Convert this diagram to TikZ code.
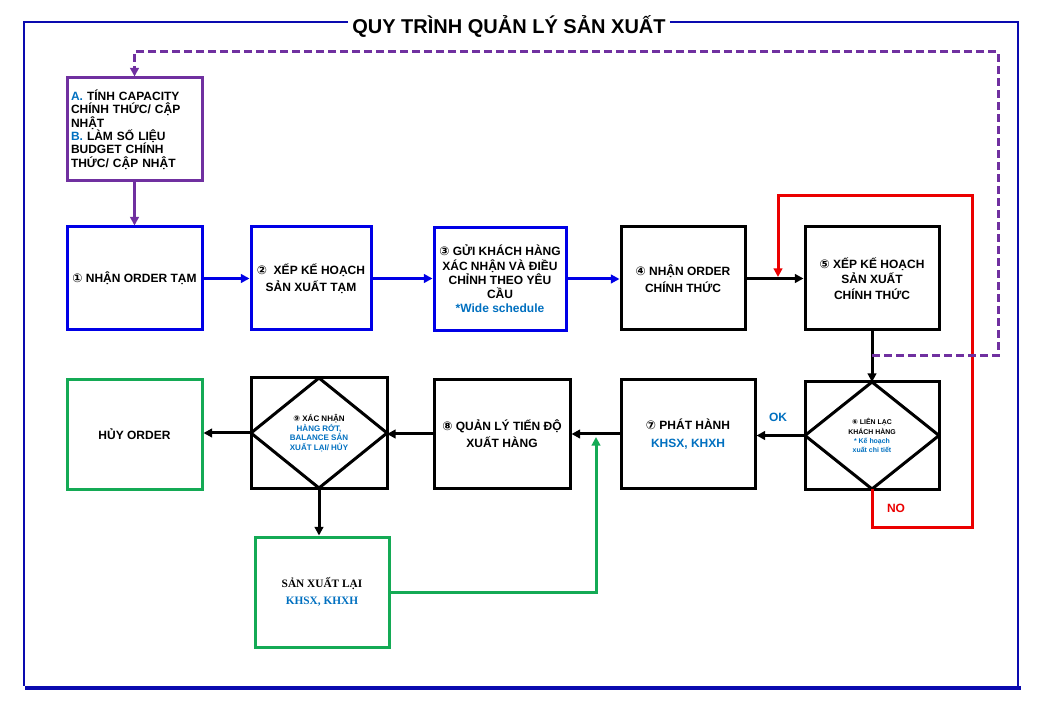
\documentclass[tikz,border=0pt]{standalone}
\usepackage{fontspec}
\setmainfont{Liberation Sans}
\newfontfamily\sym{DejaVu Sans}
\newfontfamily\serifv{Liberation Serif}
\usetikzlibrary{arrows.meta}
\definecolor{boxblue}{RGB}{0,0,230}
\definecolor{frameblue}{RGB}{10,10,175}
\definecolor{txtblue}{RGB}{0,112,192}
\definecolor{grn}{RGB}{20,170,85}
\definecolor{purp}{RGB}{112,48,160}
\definecolor{redc}{RGB}{235,0,0}
\begin{document}
\begin{tikzpicture}[x=0.75pt,y=-0.75pt,
  box/.style={draw,line width=2.25pt,inner sep=0pt,align=center,font=\bfseries\fontsize{9}{13}\selectfont},
  bluebox/.style={box,draw=boxblue},
  blackbox/.style={box,draw=black},
  greenbox/.style={box,draw=grn},
  tip/.style={-{Triangle[length=6.5pt,width=6.5pt]}},
  conn/.style={line width=2.25pt,tip},
  framel/.style={frameblue,line width=1.5pt},
  lbl/.style={font=\bfseries\fontsize{9}{11}\selectfont,inner sep=1pt}]
\useasboundingbox (0,0) rectangle (1045,712);
\fill[white] (0,0) rectangle (1045,712);

% frame and title
\node[font=\bfseries\fontsize{15}{18}\selectfont,inner sep=3pt] (title) at (509,27) {QUY TRÌNH QUẢN LÝ SẢN XUẤT};
\coordinate (fTL) at (24,22);
\coordinate (fTR) at (1018,22);
\coordinate (fBL) at (24,686);
\coordinate (fBR) at (1018,686);
\coordinate (bL) at (25,688);
\coordinate (bR) at (1021,688);
\draw[framel] (title.west |- fTL) -- (fTL) -- (fBL);
\draw[framel] (title.east |- fTR) -- (fTR) -- (fBR);
\draw[frameblue,line width=2.6pt] (bL) -- (bR);

% boxes
\node[box,draw=purp,align=left,text width=95.25pt,minimum width=101.25pt,minimum height=77.25pt,font=\bfseries\fontsize{9}{10.1}\selectfont] (A) at (134.5,129.5)
  {\textcolor{txtblue}{A.} TÍNH CAPACITY\\CHÍNH THỨC/ CẬP\\NHẬT\\\textcolor{txtblue}{B.} LÀM SỐ LIỆU\\BUDGET CHÍNH\\THỨC/ CẬP NHẬT};

\node[bluebox,minimum width=101.25pt,minimum height=77.25pt] (b1) at (134.5,278.5) {{\sym ①} NHẬN ORDER TẠM};
\node[bluebox,minimum width=90pt,minimum height=77.25pt] (b2) at (311,278.5) {{\sym ②}\ \ XẾP KẾ HOẠCH\\SẢN XUẤT TẠM};
\node[bluebox,minimum width=99pt,minimum height=77.25pt,font=\bfseries\fontsize{9}{10.7}\selectfont] (b3) at (500,279) {{\sym ③} GỬI KHÁCH HÀNG\\XÁC NHẬN VÀ ĐIỀU\\CHỈNH THEO YÊU\\CẦU\\\textcolor{txtblue}{*Wide schedule}};
\node[blackbox,minimum width=93pt,minimum height=77.25pt] (b4) at (683,278.5) {{\sym ④} NHẬN ORDER\\CHÍNH THỨC};
\node[blackbox,minimum width=100.5pt,minimum height=77.25pt,font=\bfseries\fontsize{9}{11.6}\selectfont] (b5) at (872,278.5) {{\sym ⑤} XẾP KẾ HOẠCH\\SẢN XUẤT\\CHÍNH THỨC};

\node[blackbox,outer sep=0pt,minimum width=100.5pt,minimum height=80.25pt,font=\bfseries\fontsize{5.2}{6.8}\selectfont] (b6) at (872,435.5) {{\sym ⑥} LIÊN LẠC\\KHÁCH HÀNG\\\textcolor{txtblue}{* Kế hoạch}\\\textcolor{txtblue}{xuất chi tiết}};
\node[blackbox,minimum width=100.5pt,minimum height=81pt] (b7) at (688,434) {{\sym ⑦} PHÁT HÀNH\\\textcolor{txtblue}{KHSX, KHXH}};
\node[blackbox,minimum width=102pt,minimum height=81pt] (b8) at (502,434) {{\sym ⑧} QUẢN LÝ TIẾN ĐỘ\\XUẤT HÀNG};
\node[blackbox,outer sep=0pt,minimum width=102pt,minimum height=82.5pt,font=\bfseries\fontsize{6}{7.2}\selectfont] (b9) at (319,433) {{\sym ⑨} XÁC NHẬN\\\textcolor{txtblue}{HÀNG RỚT,}\\\textcolor{txtblue}{BALANCE SẢN}\\\textcolor{txtblue}{XUẤT LẠI/ HỦY}};
\node[greenbox,minimum width=101.25pt,minimum height=81.75pt] (huy) at (134.5,434.5) {HỦY ORDER};
\node[greenbox,minimum width=100.5pt,minimum height=82.5pt,font=\serifv\bfseries\fontsize{8.5}{12.5}\selectfont] (sxl) at (322,592) {SẢN XUẤT LẠI\\\textcolor{txtblue}{KHSX, KHXH}};

% diamonds
\draw[line width=2.25pt,line join=round] (b9.north) -- (b9.east) -- (b9.south) -- (b9.west) -- cycle;
\draw[line width=2.25pt,line join=round] (b6.north) -- (b6.east) -- (b6.south) -- (b6.west) -- cycle;

% connectors row 1
\draw[conn,purp] (A.south) -- (A.south |- b1.north);
\draw[conn,boxblue] (b1.east) -- (b1.east -| b2.west);
\draw[conn,boxblue] (b2.east) -- (b2.east -| b3.west);
\draw[conn,boxblue] (b3.east) -- (b3.east -| b4.west);
\draw[conn,black] (b4.east) -- (b4.east -| b5.west);
\draw[conn,black] (b5.south) -- (b5.south |- b6.north);

% row 2
\draw[conn,black] (b6.west) -- (b6.west -| b7.east);
\draw[conn,black] (b7.west) -- (b7.west -| b8.east);
\draw[conn,black] (b8.west) -- (b8.west -| b9.east);
\draw[conn,black] (b9.west) -- (b9.west -| huy.east);
\draw[conn,black] (b9.south) -- (b9.south |- sxl.north);

% labels
\node[lbl,text=txtblue] (ok) at (778,417) {OK};
\node[lbl,text=redc] (no) at (896,508) {NO};

% red loop
\coordinate (rA) at (972,527);
\coordinate (rB) at (972,196);
\coordinate (rj) at (778,277);
\draw[conn,redc] (b6.south) |- (rA) -- (rB) -| (rj);

% purple dashed loop
\coordinate (pj) at (872,356);
\coordinate (pR) at (998,52);
\draw[purp,line width=2.25pt,dash pattern=on 6pt off 3pt,tip] (pj) -| (pR) -| (A.north);

% green return
\coordinate (gj) at (596,437);
\draw[conn,grn] (sxl.east) -| (gj);
\end{tikzpicture}
\end{document}
